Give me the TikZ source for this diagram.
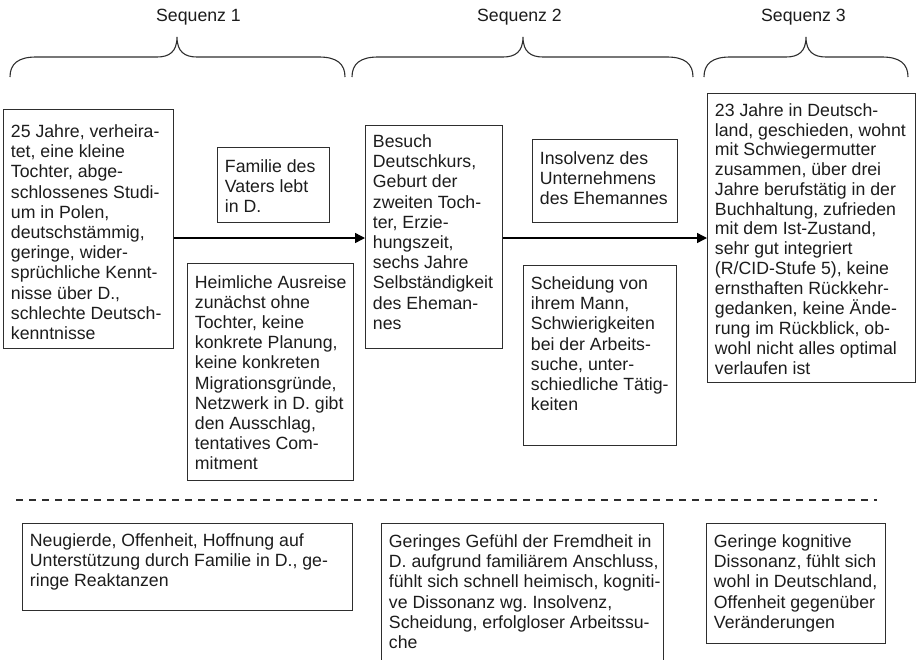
\documentclass[tikz,border=0pt]{standalone}
\usepackage{fontspec}
\setmainfont{Liberation Sans}
\usetikzlibrary{arrows.meta}
\definecolor{ink}{HTML}{1C1C1C}
\definecolor{frame}{HTML}{2E2E2E}
\frenchspacing
% box body: height, width, space above first line, lines
\newcommand{\boxbody}[4]{\parbox[t][#1][t]{#2}{\vspace*{#3}\begin{tabular}[t]{@{}l@{}}#4\end{tabular}}}
% curly brace over a sequence: left end, tip, right end
\newcommand{\seqbrace}[3]{%
  \draw[bracestyle] (#1,77) .. controls (#1,64) and (#1+8,57) .. (#1+26,57)
    -- (#2-20,57) .. controls (#2-8,57) and (#2,52) .. (#2,37)
    .. controls (#2,52) and (#2+8,57) .. (#2+20,57)
    -- (#3-26,57) .. controls (#3-8,57) and (#3,64) .. (#3,77);}

\begin{document}
\begin{tikzpicture}[x=1pt,y=-1pt,
  every node/.style={text=ink, font=\fontsize{17.7}{20.2}\selectfont},
  box/.style={draw=frame, line width=0.9pt, anchor=north west,
              inner xsep=7.5pt, inner ysep=0pt},
  seqlabel/.style={anchor=base, inner sep=0pt},
  bracestyle/.style={draw=frame, line width=1.1pt},
  flow/.style={draw=black, line width=1.4pt,
               -{Triangle[length=10pt,width=10pt]}},
  divider/.style={draw=frame, line width=1.3pt, dash pattern=on 7pt off 6pt}]

\useasboundingbox (0,0) rectangle (916,659);
\clip (0,0) rectangle (916,659);

% sequence headings and braces
\node[seqlabel] (s1) at (198.5,21.5) {Sequenz 1};
\node[seqlabel] (s2) at (519.5,21.5) {Sequenz 2};
\node[seqlabel] (s3) at (803.5,21.5) {Sequenz 3};
\seqbrace{10}{177}{345}
\seqbrace{352}{523}{693}
\seqbrace{704}{806}{908}

% upper row: life course
\node[box] (a) at (3,109) {\boxbody{239pt}{155pt}{14pt}{%
25 Jahre, verheira-\\ tet, eine kleine\\ Tochter, abge-\\ schlossenes Studi-\\
um in Polen,\\ deutschstämmig,\\ geringe, wider-\\ sprüchliche Kennt-\\
nisse über D.,\\ schlechte Deutsch-\\ kenntnisse}};

\node[box] (b) at (217,147) {\boxbody{75pt}{97pt}{11pt}{%
Familie des\\ Vaters lebt\\ in D.}};

\node[box] (c) at (187,263) {\boxbody{217pt}{151pt}{10.5pt}{%
Heimliche Ausreise\\ zunächst ohne\\ Tochter, keine\\ konkrete Planung,\\
keine konkreten\\ Migrationsgründe,\\ Netzwerk in D. gibt\\ den Ausschlag,\\
tentatives Com-\\ mitment}};

\node[box] (d) at (365,125) {\boxbody{223pt}{122pt}{8pt}{%
Besuch\\ Deutschkurs,\\ Geburt der\\ zweiten Toch-\\ ter, Erzie-\\
hungszeit,\\ sechs Jahre\\ Selbständigkeit\\ des Eheman-\\ nes}};

\node[box] (e) at (532,139) {\boxbody{83pt}{130pt}{11pt}{%
Insolvenz des\\ Unternehmens\\ des Ehemannes}};

\node[box] (f) at (523,265) {\boxbody{180pt}{138pt}{10pt}{%
Scheidung von\\ ihrem Mann,\\ Schwierigkeiten\\ bei der Arbeits-\\
suche, unter-\\ schiedliche Tätig-\\ keiten}};

\node[box, font=\fontsize{17.7}{19.75}\selectfont] (g) at (707,93)
  {\boxbody{289pt}{193pt}{9pt}{%
23 Jahre in Deutsch-\\ land, geschieden, wohnt\\ mit Schwiegermutter\\
zusammen, über drei\\ Jahre berufstätig in der\\ Buchhaltung, zufrieden\\
mit dem Ist-Zustand,\\ sehr gut integriert\\ (R/CID-Stufe 5), keine\\
ernsthaften Rückkehr-\\ gedanken, keine Ände-\\ rung im Rückblick, ob-\\
wohl nicht alles optimal\\ verlaufen ist}};

% arrows along the time line
\coordinate (row) at (0,238);
\draw[flow] (a.east |- row) -- (d.west |- row);
\draw[flow] (d.east |- row) -- (g.west |- row);

% divider
\coordinate (divL) at (16,500);
\coordinate (divR) at (877,500);
\draw[divider] (divL) -- (divR);

% lower row: subjective experience
\node[box] (h) at (22,523) {\boxbody{87pt}{315pt}{8.5pt}{%
Neugierde, Offenheit, Hoffnung auf\\ Unterstützung durch Familie in D., ge-\\
ringe Reaktanzen}};

\node[box] (i) at (381,523) {\boxbody{150pt}{267pt}{10pt}{%
Geringes Gefühl der Fremdheit in\\ D. aufgrund familiärem Anschluss,\\
fühlt sich schnell heimisch, kogniti-\\ ve Dissonanz wg. Insolvenz,\\
Scheidung, erfolgloser Arbeitssu-\\ che}};

\node[box] (j) at (706,523) {\boxbody{120pt}{164pt}{10pt}{%
Geringe kognitive\\ Dissonanz, fühlt sich\\ wohl in Deutschland,\\
Offenheit gegenüber\\ Veränderungen}};

\end{tikzpicture}
\end{document}
